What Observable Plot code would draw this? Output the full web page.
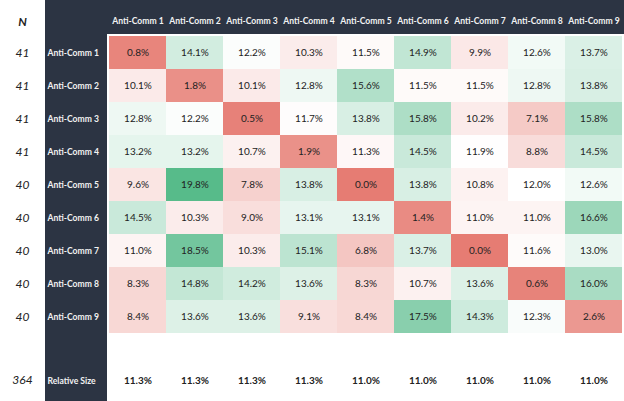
<!DOCTYPE html>
<html>
<head>
<meta charset="utf-8">
<script src="https://cdn.jsdelivr.net/npm/d3@7"></script>
<script src="https://cdn.jsdelivr.net/npm/@observablehq/plot@0.6"></script>
<style>
  html, body { margin: 0; padding: 0; background: #fff; }
  #wrap { position: relative; width: 624px; height: 401px; overflow: hidden; font-family: Lato, "Open Sans", sans-serif; }
  .dark { position: absolute; background: #2c3443; }
  #chart { position: absolute; left: 0; top: 0; }
</style>
</head>
<body>
<div id="wrap">
  <div class="dark" style="left:45px;top:0;width:579px;height:34px;"></div>
  <div class="dark" style="left:45px;top:0;width:62px;height:401px;"></div>
  <div id="chart"></div>
</div>
<script>
const rows = ["Anti-Comm 1","Anti-Comm 2","Anti-Comm 3","Anti-Comm 4","Anti-Comm 5","Anti-Comm 6","Anti-Comm 7","Anti-Comm 8","Anti-Comm 9"];
const cols = rows.slice();
const nValues = [41, 41, 41, 41, 40, 40, 40, 40, 40];
const nTotal = 364;
const relativeSize = [11.3, 11.3, 11.3, 11.3, 11.0, 11.0, 11.0, 11.0, 11.0];
const row1 = [0.8, 14.1, 12.2, 10.3, 11.5, 14.9, 9.9, 12.6, 13.7];
const row2 = [10.1, 1.8, 10.1, 12.8, 15.6, 11.5, 11.5, 12.8, 13.8];
const row3 = [12.8, 12.2, 0.5, 11.7, 13.8, 15.8, 10.2, 7.1, 15.8];
const row4 = [13.2, 13.2, 10.7, 1.9, 11.3, 14.5, 11.9, 8.8, 14.5];
const row5 = [9.6, 19.8, 7.8, 13.8, 0.0, 13.8, 10.8, 12.0, 12.6];
const row6 = [14.5, 10.3, 9.0, 13.1, 13.1, 1.4, 11.0, 11.0, 16.6];
const row7 = [11.0, 18.5, 10.3, 15.1, 6.8, 13.7, 0.0, 11.6, 13.0];
const row8 = [8.3, 14.8, 14.2, 13.6, 8.3, 10.7, 13.6, 0.6, 16.0];
const row9 = [8.4, 13.6, 13.6, 9.1, 8.4, 17.5, 14.3, 12.3, 2.6];
const matrix = [row1, row2, row3, row4, row5, row6, row7, row8, row9];

const cells = matrix.flatMap((r, i) => r.map((v, j) => ({row: rows[i], col: cols[j], v})));
const nData = rows.map((r, i) => ({row: r, n: nValues[i]}));
const relData = cols.map((c, j) => ({col: c, v: relativeSize[j]}));

const chart = Plot.plot({
  width: 624, height: 401,
  marginLeft: 107, marginRight: 0, marginTop: 34, marginBottom: 66,
  x: {domain: cols, padding: 0, axis: null},
  y: {domain: rows, padding: 0, axis: null},
  color: {type: "linear", domain: [0, 12, 19.8], range: ["#e67c73", "#ffffff", "#57bb8a"], interpolate: "rgb"},
  style: {fontFamily: "Lato, 'Open Sans', sans-serif", background: "transparent", overflow: "visible"},
  marks: [
    Plot.cell(cells, {x: "col", y: "row", fill: "v"}),
    Plot.text(cells, {x: "col", y: "row", text: d => d.v.toFixed(1) + "%", fill: "#222", fontSize: 10}),
    // column headers
    Plot.text(cols, {x: d => d, frameAnchor: "top", dy: -17, text: d => d, fill: "#f2f2f2", fontSize: 8.6, fontWeight: "bold"}),
    // row labels
    Plot.text(rows, {y: d => d, frameAnchor: "left", dx: -60, textAnchor: "start", text: d => d, fill: "#f2f2f2", fontSize: 8.6, fontWeight: "bold"}),
    // N column
    Plot.text(nData, {y: "row", frameAnchor: "left", dx: -85, textAnchor: "middle", text: d => String(d.n), fill: "#222", fontSize: 12, fontStyle: "italic"}),
    Plot.text(["N"], {frameAnchor: "top-left", dx: -85, dy: -17, textAnchor: "middle", text: d => d, fill: "#222", fontSize: 12, fontStyle: "italic", fontWeight: "bold"}),
    // bottom row
    Plot.text(relData, {x: "col", frameAnchor: "bottom", dy: 48, text: d => d.v.toFixed(1) + "%", fill: "#222", fontSize: 10, fontWeight: "bold"}),
    Plot.text(["Relative Size"], {frameAnchor: "bottom-left", dx: -60, dy: 48, textAnchor: "start", text: d => d, fill: "#f2f2f2", fontSize: 8.6, fontWeight: "bold"}),
    Plot.text([nTotal], {frameAnchor: "bottom-left", dx: -85, dy: 48, textAnchor: "middle", text: d => String(d), fill: "#222", fontSize: 12, fontStyle: "italic"})
  ]
});
document.getElementById("chart").appendChild(chart);
</script>
</body>
</html>
